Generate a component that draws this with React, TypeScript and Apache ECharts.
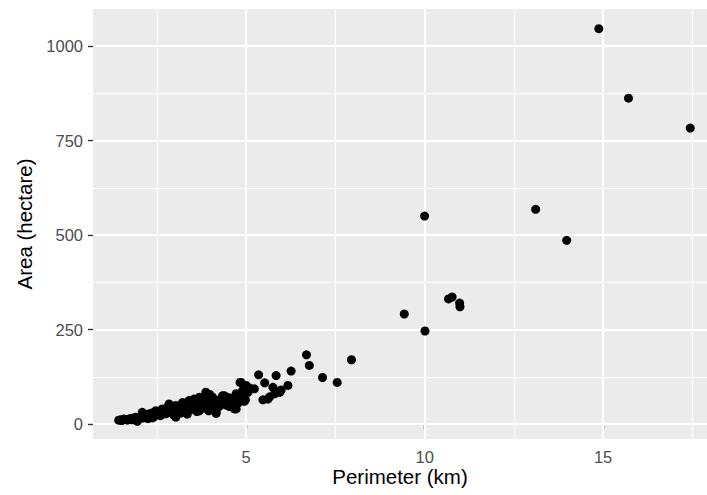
import React, { useEffect, useRef } from "react";
import * as echarts from "echarts";

const perimeterKm: number[] = [
  1.43, 1.48, 1.52, 1.57, 1.62, 1.68, 1.72, 1.78, 1.81, 1.86, 1.9, 1.95, 1.98, 2.0, 2.05, 2.09, 2.12, 2.14, 2.2, 2.25,
  2.28, 2.33, 2.37, 2.42, 2.47, 2.5, 2.56, 2.6, 2.65, 2.7, 2.75, 2.8, 2.84, 2.89, 2.93, 2.97, 3.03, 3.03, 3.03, 3.08,
  3.12, 3.17, 3.22, 3.22, 3.27, 3.31, 3.35, 3.4, 3.44, 3.5, 3.54, 3.58, 3.62, 3.64, 3.69, 3.69, 3.74, 3.78, 3.82, 3.87,
  3.9, 3.93, 3.97, 4.02, 4.06, 4.1, 4.16, 4.16, 4.16, 4.22, 4.28, 4.34, 4.39, 4.44, 4.48, 4.53, 4.58, 4.62, 4.62, 4.67,
  4.67, 4.72, 4.72, 4.77, 4.83, 4.86, 4.86, 4.9, 4.95, 4.98, 5.0, 5.0, 5.05, 5.1, 5.23, 5.35, 5.47, 5.52, 5.61, 5.66,
  5.75, 5.8, 5.84, 5.94, 5.98, 6.17, 6.26, 6.69, 6.77, 7.14, 7.55, 7.95, 9.43, 10.0, 10.01, 10.67, 10.77, 10.98, 10.99,
  13.11, 13.98, 14.88, 15.71, 17.44,
  2.18, 2.38, 2.62, 2.78, 2.95, 3.15, 3.3, 3.46, 3.56, 3.72, 3.85, 3.98, 4.12, 4.3, 4.5, 4.7, 4.88, 3.36, 3.95, 4.25,
];

const areaHa: number[] = [
  10, 11, 9, 13, 12, 10, 13, 15, 11, 12, 18, 7, 14, 13, 20, 31, 16, 18, 22, 14,
  27, 24, 16, 19, 35, 28, 27, 22, 40, 33, 27, 45, 53, 40, 30, 24, 49, 31, 18, 38,
  44, 29, 57, 35, 42, 49, 26, 62, 38, 40, 66, 47, 33, 57, 71, 35, 44, 49, 62, 84,
  40, 52, 57, 45, 71, 62, 40, 31, 28, 55, 66, 75, 75, 50, 57, 46, 68, 62, 49, 40,
  42, 80, 40, 55, 110, 66, 110, 88, 60, 64, 84, 102, 84, 95, 93, 130, 64, 109, 66, 72,
  97, 80, 128, 84, 90, 102, 140, 183, 155, 123, 110, 170, 291, 550, 246, 331, 336, 320, 310,
  568, 486, 1046, 862, 783,
  25, 30, 32, 37, 42, 36, 54, 48, 58, 66, 50, 78, 52, 60, 70, 60, 76, 44, 35, 47,
];

const xMajor: number[] = [5, 10, 15];
const xMinor: number[] = [2.5, 7.5, 12.5, 17.5];
const yMajor: number[] = [0, 250, 500, 750, 1000];
const yMinor: number[] = [125, 375, 625, 875];

const X_MIN = 0.71;
const X_MAX = 17.91;
const Y_MIN = -39.7;
const Y_MAX = 1098;

export default function App() {
  const ref = useRef<HTMLDivElement>(null);

  useEffect(() => {
    document.body.style.margin = "0";
    if (!ref.current) return;
    const chart = echarts.init(ref.current, undefined, { renderer: "svg" });
    const font = "'Liberation Sans', Arial, Helvetica, sans-serif";
    const points = perimeterKm.map((x, i) => [x, areaHa[i]]);

    const gridLine = (axis: "xAxis" | "yAxis", v: number, w: number) => ({
      [axis]: v,
      lineStyle: { color: "#FFFFFF", width: w, type: "solid" },
    });

    const option: any = {
      animation: false,
      backgroundColor: "#FFFFFF",
      grid: {
        left: 93,
        top: 9,
        right: 0,
        bottom: 56,
        show: true,
        backgroundColor: "#EBEBEB",
        borderWidth: 0,
      },
      xAxis: {
        type: "value",
        min: X_MIN,
        max: X_MAX,
        name: "Perimeter (km)",
        nameLocation: "middle",
        nameGap: 27,
        nameMoveOverlap: false,
        nameTextStyle: { color: "#000000", fontSize: 20.5, fontFamily: font, verticalAlign: "top" },
        axisLine: { show: false },
        splitLine: { show: false },
        axisTick: {
          show: true,
          length: 5,
          customValues: xMajor,
          lineStyle: { color: "#333333", width: 1.4 },
        },
        axisLabel: {
          customValues: xMajor,
          margin: 9,
          color: "#4D4D4D",
          fontSize: 16.5,
          fontFamily: font,
          formatter: (v: number) => String(v),
        },
      },
      yAxis: {
        type: "value",
        min: Y_MIN,
        max: Y_MAX,
        name: "Area (hectare)",
        nameLocation: "middle",
        nameGap: 50,
        nameRotate: 90,
        nameTextStyle: { color: "#000000", fontSize: 20.5, fontFamily: font },
        axisLine: { show: false },
        splitLine: { show: false },
        axisTick: {
          show: true,
          length: 5,
          customValues: yMajor,
          lineStyle: { color: "#333333", width: 1.4 },
        },
        axisLabel: {
          customValues: yMajor,
          margin: 10,
          color: "#4D4D4D",
          fontSize: 16.5,
          fontFamily: font,
          formatter: (v: number) => String(v),
        },
      },
      series: [
        {
          type: "scatter",
          data: points,
          symbol: "circle",
          symbolSize: 9,
          itemStyle: { color: "#000000", opacity: 1 },
          z: 3,
          silent: true,
          markLine: {
            silent: true,
            symbol: ["none", "none"],
            label: { show: false },
            z: 1,
            animation: false,
            data: [
              ...xMinor.map((v) => gridLine("xAxis", v, 1)),
              ...yMinor.map((v) => gridLine("yAxis", v, 1)),
              ...xMajor.map((v) => gridLine("xAxis", v, 2)),
              ...yMajor.map((v) => gridLine("yAxis", v, 2)),
            ],
          },
        },
      ],
    };

    chart.setOption(option);
    return () => chart.dispose();
  }, []);

  return (
    <div
      ref={ref}
      style={{ position: "absolute", left: 0, top: 0, width: 707, height: 495 }}
    />
  );
}
